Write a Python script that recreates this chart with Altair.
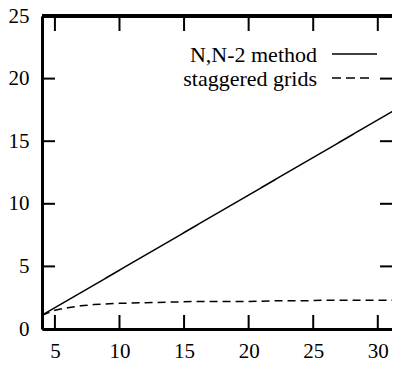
import altair as alt
import pandas as pd

# ---- data ----
nn2_x = [4, 6, 8, 10, 12, 14, 16, 18, 20, 22, 24, 26, 28, 30, 32]
nn2_y = [1.1, 2.3, 3.5, 4.7, 5.9, 7.1, 8.3, 9.5, 10.7, 11.9, 13.1, 14.3, 15.5, 16.7, 17.9]
stag_x = [4, 5, 6, 7, 8, 10, 12, 14, 16, 18, 20, 22, 24, 26, 28, 30, 32]
stag_y = [1.1, 1.5, 1.7, 1.85, 1.95, 2.05, 2.1, 2.15, 2.2, 2.2, 2.2, 2.25, 2.25, 2.3, 2.3, 2.3, 2.3]
series_names = ["N,N-2 method", "staggered grids"]
x_ticks = [5, 10, 15, 20, 25, 30]
y_ticks = [0, 5, 10, 15, 20, 25]

W, H = 350, 313
FONT = "Liberation Serif"

df = pd.DataFrame(
    {"x": nn2_x + stag_x,
     "y": nn2_y + stag_y,
     "series": [series_names[0]] * len(nn2_x) + [series_names[1]] * len(stag_x)}
)
xs = alt.Scale(domain=[4, 31.1], nice=False, zero=False)
ys = alt.Scale(domain=[0, 25], nice=False, zero=False)

ax_x = alt.Axis(values=x_ticks, ticks=False, tickSize=0, grid=False, title=None,
                domainColor="black", domainWidth=3, labelFont=FONT, labelFontSize=21,
                labelColor="black", labelPadding=11)
ax_y = alt.Axis(values=y_ticks, ticks=False, tickSize=0, grid=False, title=None,
                domainColor="black", domainWidth=3, labelFont=FONT, labelFontSize=21,
                labelColor="black", labelPadding=13)

lines = alt.Chart(df).mark_line(color="black", strokeWidth=1.5, clip=True).encode(
    x=alt.X("x:Q", scale=xs, axis=ax_x),
    y=alt.Y("y:Q", scale=ys, axis=ax_y),
    strokeDash=alt.StrokeDash("series:N", scale=alt.Scale(
        domain=series_names, range=[[1, 0], [8, 5]]), legend=None),
    detail="series:N",
)

xt = pd.DataFrame({"t": x_ticks})
yt = pd.DataFrame({"t": y_ticks})

bottom_ticks = alt.Chart(xt).mark_rule(color="black", strokeWidth=2).encode(
    x=alt.X("t:Q", scale=xs, axis=ax_x), y=alt.value(H), y2=alt.value(H - 14))
top_ticks = alt.Chart(xt).mark_rule(color="black", strokeWidth=2).encode(
    x=alt.X("t:Q", scale=xs, axis=ax_x), y=alt.value(0), y2=alt.value(15))
left_ticks = alt.Chart(yt).mark_rule(color="black", strokeWidth=2).encode(
    y=alt.Y("t:Q", scale=ys, axis=ax_y), x=alt.value(0), x2=alt.value(13))
right_ticks = alt.Chart(yt).mark_rule(color="black", strokeWidth=2).encode(
    y=alt.Y("t:Q", scale=ys, axis=ax_y), x=alt.value(W), x2=alt.value(W - 12))
top_line = alt.Chart(xt).mark_rule(color="black", strokeWidth=3).encode(
    x=alt.value(0), x2=alt.value(W), y=alt.value(0))

leg1 = pd.DataFrame({"label": [series_names[0]]})
leg2 = pd.DataFrame({"label": [series_names[1]]})
leg_text1 = alt.Chart(leg1).mark_text(align="right", baseline="middle", font=FONT,
                                      fontSize=22, color="black").encode(
    text="label:N", x=alt.value(275), y=alt.value(39))
leg_text2 = alt.Chart(leg2).mark_text(align="right", baseline="middle", font=FONT,
                                      fontSize=22, color="black").encode(
    text="label:N", x=alt.value(275), y=alt.value(63))
leg_line1 = alt.Chart(leg1).mark_rule(color="black", strokeWidth=1.5).encode(
    x=alt.value(290), x2=alt.value(335), y=alt.value(38))
leg_line2 = alt.Chart(leg2).mark_rule(color="black", strokeWidth=1.5, strokeDash=[9, 5]).encode(
    x=alt.value(290), x2=alt.value(331), y=alt.value(62))

chart = alt.layer(
    lines, bottom_ticks, top_ticks, left_ticks, right_ticks, top_line,
    leg_text1, leg_text2, leg_line1, leg_line2
).properties(
    width=W, height=H,
    autosize=alt.AutoSizeParams(type="none"),
    padding={"left": 34, "top": 8, "right": 0, "bottom": 33},
    background="white",
).configure_view(stroke=None)

chart.save("out.html", embed_options={"renderer": "svg", "actions": False})
